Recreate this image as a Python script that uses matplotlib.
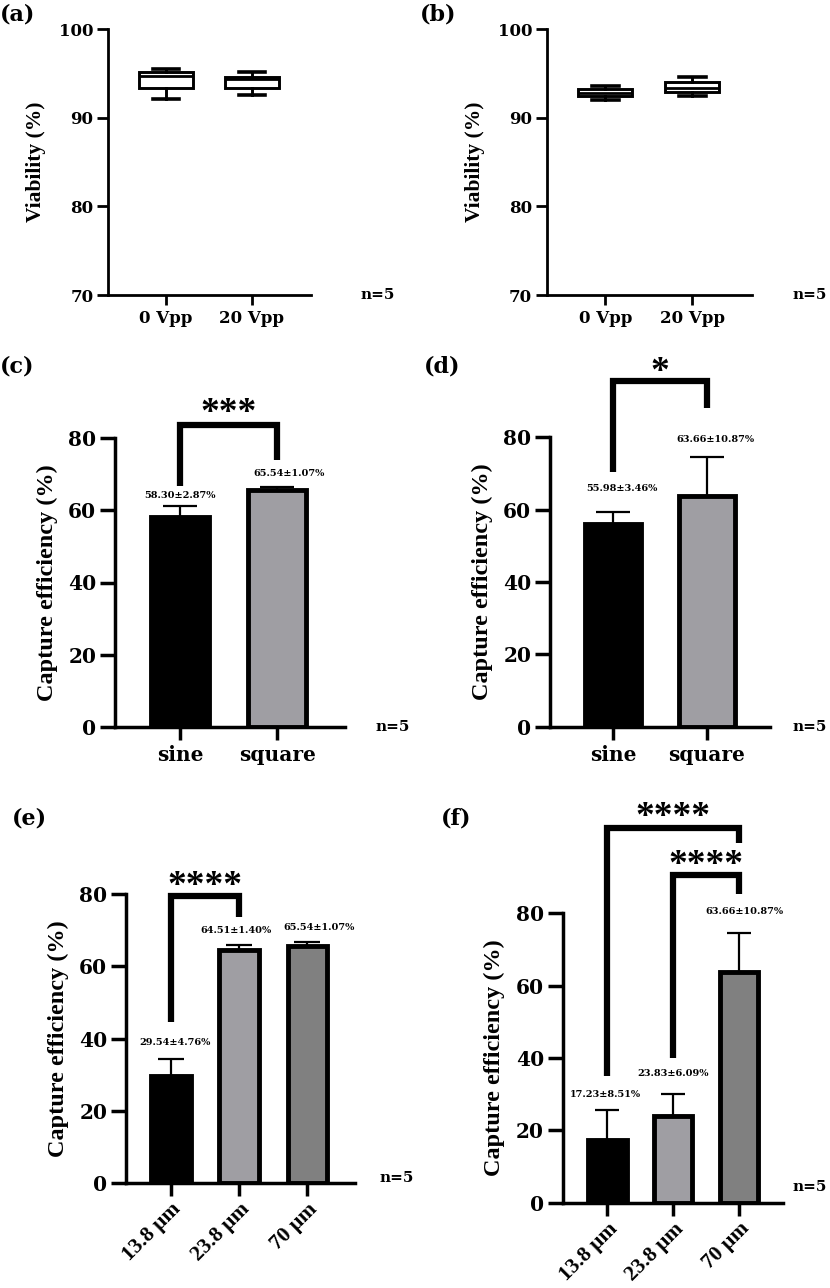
"""Viability box plots and capture-efficiency bar charts, six panels."""

import matplotlib

matplotlib.use("Agg")
import matplotlib.pyplot as plt

W, H = 830, 1288
SERIF_W = "DejaVu Serif"
SERIF = "Liberation Serif"
LIGHT = "#9f9ea3"
DARK = "#808080"

# (a)/(b) viability, five-number summaries
volt_labels = ["0 Vpp", "20 Vpp"]
via_a = [[92.1, 93.3, 94.7, 95.1, 95.5], [92.6, 93.3, 94.4, 94.6, 95.1]]
via_b = [[92.0, 92.45, 92.75, 93.2, 93.6], [92.5, 92.85, 93.4, 94.0, 94.6]]

# (c)/(d) waveform
wave_labels = ["sine", "square"]
wave_c_mean = [58.30, 65.54]
wave_c_sd = [2.87, 1.07]
wave_d_mean = [55.98, 63.66]
wave_d_sd = [3.46, 10.87]

# (e)/(f) gap size
gap_labels = ["13.8 μm", "23.8 μm", "70 μm"]
gap_e_mean = [29.54, 64.51, 65.54]
gap_e_sd = [4.76, 1.40, 1.07]
gap_f_mean = [17.23, 23.83, 63.66]
gap_f_sd = [8.51, 6.09, 10.87]

sig_c = [(0, 1, "***")]
sig_d = [(0, 1, "*")]
sig_e = [(0, 1, "****")]
sig_f = [(0, 2, "****"), (1, 2, "****")]

fig = plt.figure(figsize=(W / 100, H / 100), dpi=100)
fig.patch.set_facecolor("white")


def px_axes(l, t, r, b):
    return fig.add_axes([l / W, 1 - b / H, (r - l) / W, (b - t) / H])


def fig_text(x, y, s, size, **kw):
    fig.text(x / W, 1 - y / H, s, fontsize=size, fontweight="bold", family=SERIF_W,
             ha="center", va="center", **kw)


def style(ax, lw, ylab, ylab_size, lab_off, ytl, xtl, ytick_len, xtick_len, xpad=4):
    for side in ("top", "right"):
        ax.spines[side].set_visible(False)
    for side in ("left", "bottom"):
        ax.spines[side].set_linewidth(lw)
    ax.tick_params(axis="y", length=ytick_len, width=lw, pad=2.5, labelsize=ytl)
    ax.tick_params(axis="x", length=xtick_len, width=lw, pad=xpad, labelsize=xtl)
    for lab in ax.get_yticklabels() + ax.get_xticklabels():
        lab.set_fontweight("bold")
        lab.set_family(SERIF_W)
    ax.set_ylabel(ylab, fontsize=ylab_size, fontweight="bold", family=SERIF, va="center")
    w = ax.get_position().width * W
    ax.yaxis.set_label_coords(-lab_off / w, 0.5)


def box_panel(box, stats):
    ax = px_axes(*box)
    data = [dict(whislo=s[0], q1=s[1], med=s[2], q3=s[3], whishi=s[4]) for s in stats]
    ax.bxp(data, positions=[0, 1], widths=0.62, showfliers=False, patch_artist=True,
           capwidths=0.31,
           boxprops=dict(facecolor="white", edgecolor="black", linewidth=2.1),
           medianprops=dict(color="black", linewidth=2),
           whiskerprops=dict(color="black", linewidth=2.1),
           capprops=dict(color="black", linewidth=2.6))
    ax.set_xlim(-0.674, 1.686)
    ax.set_ylim(70, 100)
    ax.set_yticks([70, 80, 90, 100])
    ax.set_xticks([0, 1])
    ax.set_xticklabels(volt_labels)
    style(ax, 2.0, "Viability (%)", 15.5, 72, 12, 12, 8, 7)
    return ax


def bar_panel(box, labels, means, sds, colors, width, xlim, capsize, rot=0):
    ax = px_axes(*box)
    x = list(range(len(means)))
    ax.bar(x, means, width=width, color=colors, edgecolor="black", linewidth=3.5, zorder=2)
    ax.errorbar(x, means, yerr=[[0] * len(sds), sds], fmt="none", ecolor="black",
                elinewidth=1.6, capsize=capsize, capthick=1.6, zorder=3)
    ax.set_xlim(*xlim)
    ax.set_ylim(0, 80)
    ax.set_yticks([0, 20, 40, 60, 80])
    ax.set_xticks(x)
    if rot:
        ax.set_xticklabels(labels, rotation=45, ha="right", rotation_mode="anchor")
    else:
        ax.set_xticklabels(labels)
    style(ax, 2.5, "Capture efficiency (%)", 17.5, 68, 14.5, 14.5, 11, 9,
          xpad=2.5 if rot else 4)
    if rot:
        for lab in ax.get_xticklabels():
            lab.set_family(SERIF)
            lab.set_fontsize(15.5)
    return ax


def bracket(ax, i, j, yl, top, yr, stars, ystar):
    ax.plot([i, i, j, j], [yl, top, top, yr], color="black", lw=4.5, clip_on=False,
            solid_joinstyle="miter", solid_capstyle="butt", zorder=4)
    ax.text((i + j) / 2, ystar, stars, ha="center", va="center", fontsize=27,
            fontweight="bold", family=SERIF, clip_on=False)


def values(ax, means, sds, ypos, dx, size=7):
    for k, (m, s) in enumerate(zip(means, sds)):
        ax.text(k + dx[k], ypos[k], f"{m:.2f}±{s:.2f}%", ha="center", va="center",
                fontsize=size, fontweight="bold", family=SERIF_W, clip_on=False)


# (a), (b)
box_panel((108, 29, 311, 295), via_a)
box_panel((546.7, 29, 752, 295), via_b)

# (c)
ax_c = bar_panel((115, 438.3, 345, 726.7), wave_labels, wave_c_mean, wave_c_sd,
                 ["black", LIGHT], 0.6, (-0.67, 1.70), 12)
bracket(ax_c, 0, 1, 66.7, 83.8, 74.1, sig_c[0][2], 87.0)
values(ax_c, wave_c_mean, wave_c_sd, [64.2, 70.2], [0, 0.12])

# (d)
ax_d = bar_panel((550, 437.3, 770, 726.7), wave_labels, wave_d_mean, wave_d_sd,
                 ["black", LIGHT], 0.6, (-0.678, 1.678), 12)
bracket(ax_d, 0, 1, 70.4, 95.5, 88.0, sig_d[0][2], 98.0)
values(ax_d, wave_d_mean, wave_d_sd, [65.9, 79.4], [0.09, 0.09])

# (e)
ax_e = bar_panel((126, 894, 355, 1183.3), gap_labels, gap_e_mean, gap_e_sd,
                 ["black", LIGHT, DARK], 0.58, (-0.66, 2.70), 9.5, rot=45)
bracket(ax_e, 0, 1, 44.7, 79.4, 73.7, sig_e[0][2], 82.0)
values(ax_e, gap_e_mean, gap_e_sd, [39.0, 69.9, 70.8], [0.06, -0.05, 0.17])

# (f)
ax_f = bar_panel((562.7, 913.3, 783.3, 1202.7), gap_labels, gap_f_mean, gap_f_sd,
                 ["black", LIGHT, DARK], 0.58, (-0.68, 2.67), 8.5, rot=45)
bracket(ax_f, sig_f[0][0], sig_f[0][1], 35.0, 103.5, 99.4, sig_f[0][2], 106.5)
bracket(ax_f, sig_f[1][0], sig_f[1][1], 40.1, 90.6, 85.4, sig_f[1][2], 93.2)
values(ax_f, gap_f_mean, gap_f_sd, [30.0, 35.6, 80.5], [-0.03, 0.0, 0.08])

# n labels and panel letters
for x, y in ((378, 295), (810, 295), (393, 727), (810, 727), (397, 1178), (810, 1187)):
    fig_text(x, y, "n=5", 11)
for x, y, s in ((18, 15, "(a)"), (438, 15, "(b)"), (17, 367, "(c)"),
                (442, 367, "(d)"), (29, 818, "(e)"), (456, 818, "(f)")):
    fig_text(x, y, s, 16)

fig.savefig("out.png", dpi=100)
